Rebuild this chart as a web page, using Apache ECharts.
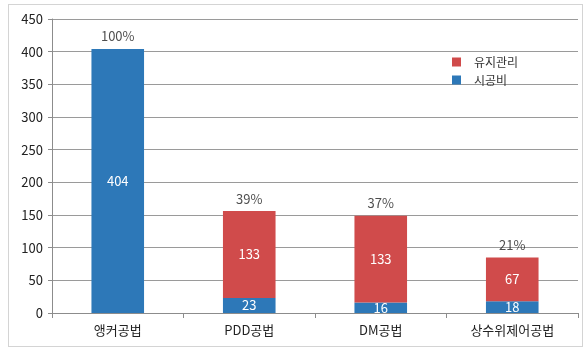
<!DOCTYPE html>
<html>
<head>
<meta charset="utf-8">
<script src="https://cdn.jsdelivr.net/npm/echarts@6/dist/echarts.min.js"></script>
<style>
  html, body { margin: 0; padding: 0; background: #fff; }
  #frame { position: absolute; left: 8px; top: 4px; width: 575px; height: 343px; border: 1px solid #d4d4d4; box-sizing: border-box; }
  #chart { width: 586px; height: 351px; position: absolute; left: 0; top: 0; }
</style>
</head>
<body>
<div id="frame"></div>
<div id="chart"></div>
<script>
// Construction method cost comparison (stacked: construction + maintenance)
const categories = ['앵커공법', 'PDD공법', 'DM공법', '상수위제어공법'];
const constructionCost = [404, 23, 16, 18];   // 시공비
const maintenanceCost = [0, 133, 133, 67];    // 유지관리
const ratioLabels = ['100%', '39%', '37%', '21%'];
const yTicks = { min: 0, max: 450, interval: 50 };

const totals = categories.map((_, i) => constructionCost[i] + maintenanceCost[i]);

const fontFamily = '"Noto Sans CJK KR", "Noto Sans", sans-serif';
const chart = echarts.init(document.getElementById('chart'), null, { renderer: 'canvas' });

chart.setOption({
  animation: false,
  textStyle: { fontFamily: fontFamily },
  grid: { left: 52, right: 8, top: 19, bottom: 38, containLabel: false },
  legend: {
    orient: 'vertical',
    left: 447, top: 51,
    itemWidth: 9, itemHeight: 9, itemGap: 6,
    icon: 'rect',
    textStyle: { fontSize: 12, color: '#333', fontFamily: fontFamily, padding: [0, 0, 0, 8] },
    data: ['유지관리', '시공비']
  },
  xAxis: {
    type: 'category',
    data: categories,
    axisLine: { lineStyle: { color: '#8c8c8c' } },
    axisTick: { show: true, length: 5, lineStyle: { color: '#8c8c8c' } },
    axisLabel: { color: '#222', fontSize: 13, margin: 11, fontFamily: fontFamily }
  },
  yAxis: {
    type: 'value',
    min: yTicks.min, max: yTicks.max, interval: yTicks.interval,
    axisLine: { show: true, lineStyle: { color: '#8c8c8c' } },
    axisTick: { show: true, length: 4, lineStyle: { color: '#8c8c8c' } },
    axisLabel: { color: '#222', fontSize: 13, margin: 9, fontFamily: fontFamily },
    splitLine: { lineStyle: { color: '#9a9a9a', width: 1 } }
  },
  series: [
    {
      name: '시공비', type: 'bar', stack: 'cost',
      data: constructionCost, barWidth: '40%',
      itemStyle: { color: '#2D78B8' },
      label: { show: true, position: 'inside', color: '#fff', fontSize: 13, fontFamily: fontFamily }
    },
    {
      name: '유지관리', type: 'bar', stack: 'cost',
      data: maintenanceCost, barWidth: '40%',
      itemStyle: { color: '#D04B4B' },
      label: {
        show: true, position: 'inside', color: '#fff', fontSize: 13, fontFamily: fontFamily,
        formatter: p => (p.value > 0 ? p.value : '')
      }
    },
    {
      name: 'ratio', type: 'scatter',
      data: totals, symbolSize: 0, silent: true,
      label: {
        show: true, position: 'top', distance: 6, color: '#222', fontSize: 13, fontFamily: fontFamily,
        formatter: p => ratioLabels[p.dataIndex]
      }
    }
  ]
});
</script>
</body>
</html>
